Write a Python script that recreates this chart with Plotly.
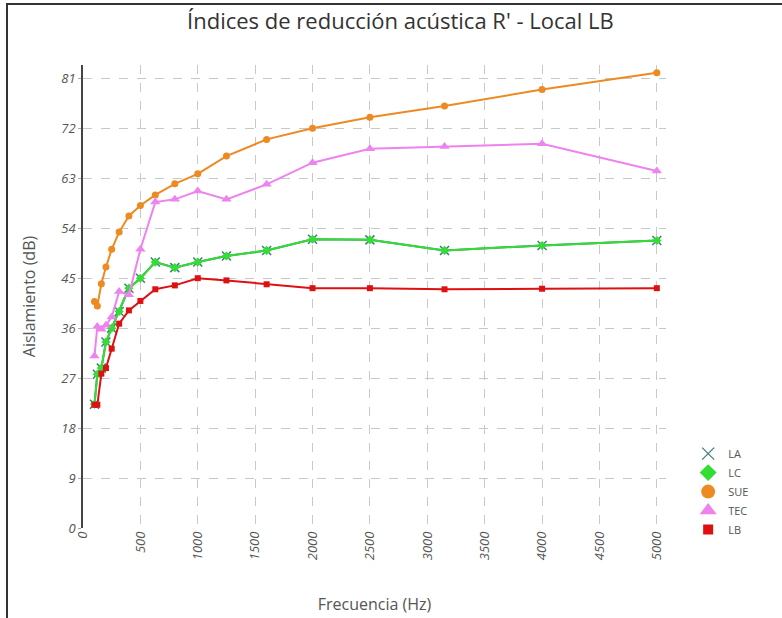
import plotly.graph_objects as go

# Third-octave band centre frequencies (Hz)
freq = [100, 125, 160, 200, 250, 315, 400, 500, 630, 800, 1000, 1250,
        1600, 2000, 2500, 3150, 4000, 5000]

# Apparent sound reduction index R' (dB) per element
la = [22.3, 27.7, 28.8, 33.5, 36.0, 39.0, 43.2, 45.0, 47.9, 46.9, 47.9, 49.0,
      50.0, 52.0, 51.9, 50.0, 50.9, 51.8]
lc = [22.3, 27.7, 28.8, 33.5, 36.0, 39.0, 43.2, 45.0, 47.9, 46.9, 47.9, 49.0,
      50.0, 52.0, 51.9, 50.0, 50.9, 51.8]
sue = [40.8, 40.0, 44.0, 47.0, 50.2, 53.3, 56.2, 58.1, 60.0, 62.0, 63.8, 67.0,
       70.0, 72.0, 74.0, 76.0, 79.0, 82.0]
tec = [31.0, 36.3, 35.8, 36.5, 38.0, 42.6, 42.0, 50.2, 58.7, 59.2, 60.7, 59.2,
       61.9, 65.8, 68.3, 68.7, 69.2, 64.3]
lb = [22.2, 22.2, 27.8, 28.8, 32.3, 36.8, 39.2, 40.9, 43.0, 43.7, 45.0, 44.6,
      43.9, 43.2, 43.2, 43.0, 43.1, 43.2]

x_ticks = [0, 500, 1000, 1500, 2000, 2500, 3000, 3500, 4000, 4500, 5000]
y_ticks = [0, 9, 18, 27, 36, 45, 54, 63, 72, 81]

series = [
    # name, values, colour, marker symbol, marker size, legend symbol size
    ("LA", la, "#3f7a7a", "x-thin-open", 9, 12),
    ("LC", lc, "#33dd33", "diamond", 7, 13),
    ("SUE", sue, "#ee8a22", "circle", 7, 14),
    ("TEC", tec, "#ee82ee", "triangle-up", 9, 15),
    ("LB", lb, "#dd1111", "square", 6, 10),
]

fig = go.Figure()

for name, vals, col, sym, size, _ in series:
    fig.add_trace(go.Scatter(
        x=freq, y=vals, mode="lines+markers", name=name, showlegend=False,
        line=dict(color=col, width=2),
        marker=dict(symbol=sym, size=size, color=col,
                    line=dict(color="#2d6b4f" if name == "LA" else col,
                              width=1.5 if name == "LA" else 0)),
    ))

# Legend entries show the marker only
for name, vals, col, sym, _, lsize in series:
    fig.add_trace(go.Scatter(
        x=[None], y=[None], mode="markers", name=name,
        marker=dict(symbol=sym, size=lsize, color=col,
                    line=dict(color=col, width=1.2 if name == "LA" else 0)),
    ))

tick_font = dict(family="Open Sans", size=13, color="#555555", style="italic")
label_font = dict(family="Open Sans", size=16, color="#555555")

fig.update_layout(
    width=782, height=618,
    margin=dict(l=83, r=116, t=65, b=90),
    paper_bgcolor="white", plot_bgcolor="white",
    title=dict(text="Índices de reducción acústica R' - Local LB",
               x=0.512, xanchor="center", y=0.966, yanchor="middle",
               font=dict(family="Open Sans", size=22, color="#333333")),
    legend=dict(x=1.038, y=0.192, xanchor="left", yanchor="top",
                font=dict(family="Open Sans", size=11, color="#555555"),
                itemsizing="trace", tracegroupgap=0, itemwidth=30,
                bgcolor="rgba(0,0,0,0)"),
    xaxis=dict(range=[0, 5080], tickvals=x_ticks, ticktext=[str(v) for v in x_ticks],
               tickangle=-90, tickfont=tick_font, automargin=False,
               showgrid=True, gridcolor="#c8c8c8", griddash="dash", gridwidth=1,
               zeroline=False, showline=False, ticks="",
               title=dict(text="Frecuencia (Hz)", standoff=39, font=label_font)),
    yaxis=dict(range=[0, 83.4], tickvals=y_ticks, tickfont=tick_font, automargin=False,
               showgrid=True, gridcolor="#c8c8c8", griddash="dash", gridwidth=1,
               zeroline=False, showline=True, linecolor="#444444", linewidth=1.5,
               ticks="outside", ticklen=3, tickcolor="#aaaaaa",
               title=dict(text="Aislamiento (dB)", standoff=22, font=label_font)),
)

# Outer frame of the chart
fig.add_shape(type="rect", xref="paper", yref="paper",
              x0=(7 - 83) / 583, x1=(800 - 83) / 583,
              y0=(528 - 640) / 463, y1=(528 - 4) / 463,
              line=dict(color="#333333", width=2), fillcolor="rgba(0,0,0,0)",
              layer="below")

fig.write_html("out.html")
